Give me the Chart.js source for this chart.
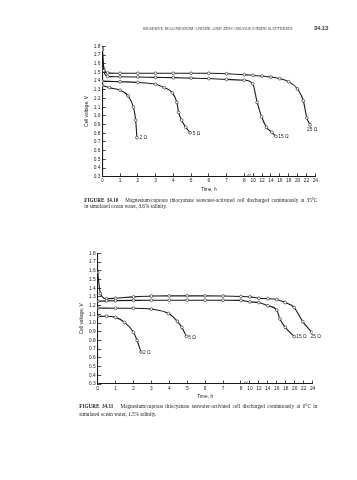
<!DOCTYPE html>
<html>
<head>
<meta charset="utf-8">
<script src="https://cdn.jsdelivr.net/npm/chart.js@4/dist/chart.umd.min.js"></script>
<style>
  html, body { margin: 0; padding: 0; background: #fff; }
  body { width: 357px; height: 480px; position: relative; overflow: hidden; }
  canvas { position: absolute; }
  .hdr { position: absolute; font-family: "Liberation Serif", serif; color: #333; white-space: nowrap; }
  .cap { position: absolute; font-family: "Liberation Serif", serif; color: #222; font-size: 5.2px; line-height: 7px; white-space: nowrap; }
  .j { text-align: justify; text-align-last: justify; }
</style>
</head>
<body>
<div class="hdr" style="left:143px; top:25.5px; font-size:4.6px; letter-spacing:0.05px; width:118px; text-align-last:justify;">RESERVE MAGNESIUM ANODE AND ZINC/SILVER OXIDE BATTERIES</div>
<div class="hdr" style="left:314px; top:24.5px; font-size:5.6px; font-weight:bold; font-family:'Liberation Sans',sans-serif;">34.13</div>

<canvas id="c1" width="260" height="161" style="left:78px; top:38px; width:260px; height:161px;"></canvas>
<div class="cap j" style="left:84.3px; top:196.5px; width:233px;"><b>FIGURE 34.10</b>&nbsp;&nbsp; Magnesium/cuprous thiocyanate seawater-activated cell discharged continuously at 35°C</div>
<div class="cap" style="left:84.3px; top:203.3px;">in simulated ocean water, 3.6% salinity.</div>

<canvas id="c2" width="260" height="161" style="left:73px; top:245px; width:260px; height:161px;"></canvas>
<div class="cap j" style="left:79.3px; top:403.3px; width:238px;"><b>FIGURE 34.11</b>&nbsp;&nbsp; Magnesium/cuprous thiocyanate seawater-activated cell discharged continuously at 0°C in</div>
<div class="cap" style="left:79.3px; top:410.6px;">simulated ocean water, 1.5% salinity.</div>

<script>
// ---- axis tick labels ----
const xTickHours = [0, 1, 2, 3, 4, 5, 6, 7, 8, 10, 12, 14, 16, 18, 20, 22, 24];
const yTickVolts = [0.3, 0.4, 0.5, 0.6, 0.7, 0.8, 0.9, 1.0, 1.1, 1.2, 1.3, 1.4, 1.5, 1.6, 1.7, 1.8];
const seriesNames = ['2 Ω', '5 Ω', '15 Ω', '25 Ω'];

// ---- Figure 34.10 (35°C, 3.6% salinity): time (h) and cell voltage (V) ----
const f10_t_2  = [0, 0.4, 1.0, 1.45, 1.75, 1.88, 1.95];
const f10_v_2  = [1.35, 1.325, 1.295, 1.23, 1.10, 0.95, 0.75];
const f10_t_5  = [0, 1, 2, 3, 3.5, 3.95, 4.2, 4.3, 4.47, 4.7, 4.95];
const f10_v_5  = [1.40, 1.393, 1.385, 1.364, 1.325, 1.265, 1.155, 1.04, 0.95, 0.87, 0.805];
const f10_t_15 = [0, 0.08, 0.3, 1, 2, 3, 4, 5, 6, 7, 8, 9.9, 10.9, 11.9, 13, 14.2, 15.1];
const f10_v_15 = [1.76, 1.52, 1.455, 1.45, 1.447, 1.443, 1.44, 1.435, 1.43, 1.42, 1.41, 1.37, 1.155, 0.99, 0.87, 0.81, 0.765];
const f10_t_25 = [0, 0.08, 0.3, 1, 2, 3, 4, 5, 6, 7, 8, 10, 12, 14, 16, 18, 20, 21.3, 22.1, 22.8];
const f10_v_25 = [1.78, 1.55, 1.495, 1.49, 1.49, 1.49, 1.49, 1.49, 1.49, 1.485, 1.475, 1.466, 1.458, 1.447, 1.428, 1.393, 1.31, 1.174, 0.977, 0.897];

// ---- Figure 34.11 (0°C, 1.5% salinity) ----
const f11_t_2  = [0, 0.5, 1.0, 1.5, 2.0, 2.2, 2.42];
const f11_v_2  = [1.075, 1.078, 1.065, 1.008, 0.894, 0.80, 0.667];
const f11_t_5  = [0, 1, 2, 3, 3.95, 4.45, 4.7, 4.95];
const f11_v_5  = [1.172, 1.17, 1.17, 1.16, 1.11, 1.02, 0.95, 0.845];
const f11_t_15 = [0, 0.5, 1, 2, 3, 4, 5, 6, 7, 8, 10, 12, 14, 16, 16.7, 17.9, 19.9];
const f11_v_15 = [1.25, 1.255, 1.257, 1.26, 1.262, 1.262, 1.262, 1.262, 1.262, 1.26, 1.243, 1.235, 1.198, 1.149, 1.047, 0.951, 0.845];
const f11_t_25 = [0, 0.15, 0.5, 1, 2, 3, 4, 5, 6, 7, 8, 10, 12, 14, 16, 17.9, 19.9, 21.8, 23.8];
const f11_v_25 = [1.58, 1.34, 1.28, 1.285, 1.30, 1.31, 1.312, 1.312, 1.312, 1.31, 1.305, 1.30, 1.285, 1.28, 1.27, 1.235, 1.178, 1.016, 0.894];

// broken time axis: 0-8 h full scale, 8-24 h compressed 4x
function toAxis(h) { return h <= 8 ? h : 8 + (h - 8) / 4; }
function pts(ts, vs) { return ts.map((t, i) => ({ x: toAxis(t), y: vs[i] })); }

const FONT = { family: "'Liberation Sans', Arial, sans-serif", size: 4.8 };
const INK = '#1a1a1a';

const endLabels = {
  id: 'endLabels',
  afterDatasetsDraw(chart, args, opts) {
    const ctx = chart.ctx;
    ctx.save();
    ctx.font = '4.8px "Liberation Sans", Arial, sans-serif';
    ctx.fillStyle = INK;
    ctx.textBaseline = 'middle';
    ctx.textAlign = 'left';
    chart.data.datasets.forEach((ds, i) => {
      const meta = chart.getDatasetMeta(i);
      const p = meta.data[meta.data.length - 1];
      const off = opts.offsets[i];
      ctx.fillText(ds.label, p.x + off[0], p.y + off[1]);
    });
    // axis break mark between 8 and 10 h
    const xs = chart.scales.x;
    const bx = xs.getPixelForValue(8.27), by = xs.top;
    ctx.strokeStyle = INK; ctx.lineWidth = 0.6;
    ctx.beginPath();
    ctx.moveTo(bx - 1.8, by - 0.3); ctx.lineTo(bx - 0.4, by - 2.6);
    ctx.moveTo(bx + 0.2, by - 0.3); ctx.lineTo(bx + 1.6, by - 2.6);
    ctx.stroke();
    ctx.restore();
  }
};

function makeChart(id, series, cfg) {
  const datasets = series.map((s, i) => ({
    label: seriesNames[i],
    data: pts(s[0], s[1]),
    borderColor: INK,
    borderWidth: 1.1,
    cubicInterpolationMode: 'monotone',
    pointRadius: 1.4,
    pointBorderWidth: 0.6,
    pointBackgroundColor: '#fff',
    pointBorderColor: INK,
    fill: false
  }));
  return new Chart(document.getElementById(id), {
    type: 'line',
    data: { datasets },
    plugins: [endLabels],
    options: {
      responsive: false,
      animation: false,
      events: [],
      layout: { padding: { top: 7, right: cfg.padRight, bottom: 0, left: 0 } },
      plugins: {
        legend: { display: false },
        tooltip: { enabled: false },
        endLabels: { offsets: cfg.offsets }
      },
      scales: {
        x: {
          type: 'linear', min: 0, max: 12,
          afterBuildTicks: (sc) => { sc.ticks = xTickHours.map(h => ({ value: toAxis(h) })); },
          afterFit: (sc) => { sc.height = cfg.xHeight; },
          ticks: {
            autoSkip: false, maxRotation: 0, minRotation: 0, padding: 5,
            color: INK, font: FONT,
            callback: (v, i) => String(xTickHours[i])
          },
          grid: { drawOnChartArea: false, drawTicks: true, tickLength: -3.5, color: INK, lineWidth: 0.8 },
          border: { display: true, color: INK, width: 1.1 },
          title: { display: true, text: 'Time, h', color: INK, font: FONT, padding: { top: 0, bottom: cfg.xTitlePad } }
        },
        y: {
          type: 'linear', min: 0.3, max: 1.8,
          afterBuildTicks: (sc) => { sc.ticks = yTickVolts.map(v => ({ value: v })); },
          afterFit: (sc) => { sc.width = cfg.yWidth; },
          ticks: {
            autoSkip: false, padding: 5.5, color: INK, font: FONT,
            callback: (v) => Number(v).toFixed(1)
          },
          grid: { drawOnChartArea: false, drawTicks: true, tickLength: -3.5, color: INK, lineWidth: 0.8 },
          border: { display: true, color: INK, width: 1.1 },
          title: { display: true, text: 'Cell voltage, V', color: INK, font: FONT, padding: { top: cfg.yTitlePad, bottom: 0 } }
        }
      }
    }
  });
}

makeChart('c1', [
  [f10_t_2, f10_v_2], [f10_t_5, f10_v_5], [f10_t_15, f10_v_15], [f10_t_25, f10_v_25]
], {
  padRight: 22.7, xHeight: 22.3, yWidth: 24.3, xTitlePad: 6.8, yTitlePad: 5.8,
  offsets: [[2.5, 0], [2.5, 1], [2.5, 0.5], [-3, 5]]
});

makeChart('c2', [
  [f11_t_2, f11_v_2], [f11_t_5, f11_v_5], [f11_t_15, f11_v_15], [f11_t_25, f11_v_25]
], {
  padRight: 20.4, xHeight: 22, yWidth: 24.7, xTitlePad: 6.4, yTitlePad: 5.8,
  offsets: [[2, 0.5], [2, 1.5], [2, 0.5], [-1, 4.5]]
});
</script>
</body>
</html>
